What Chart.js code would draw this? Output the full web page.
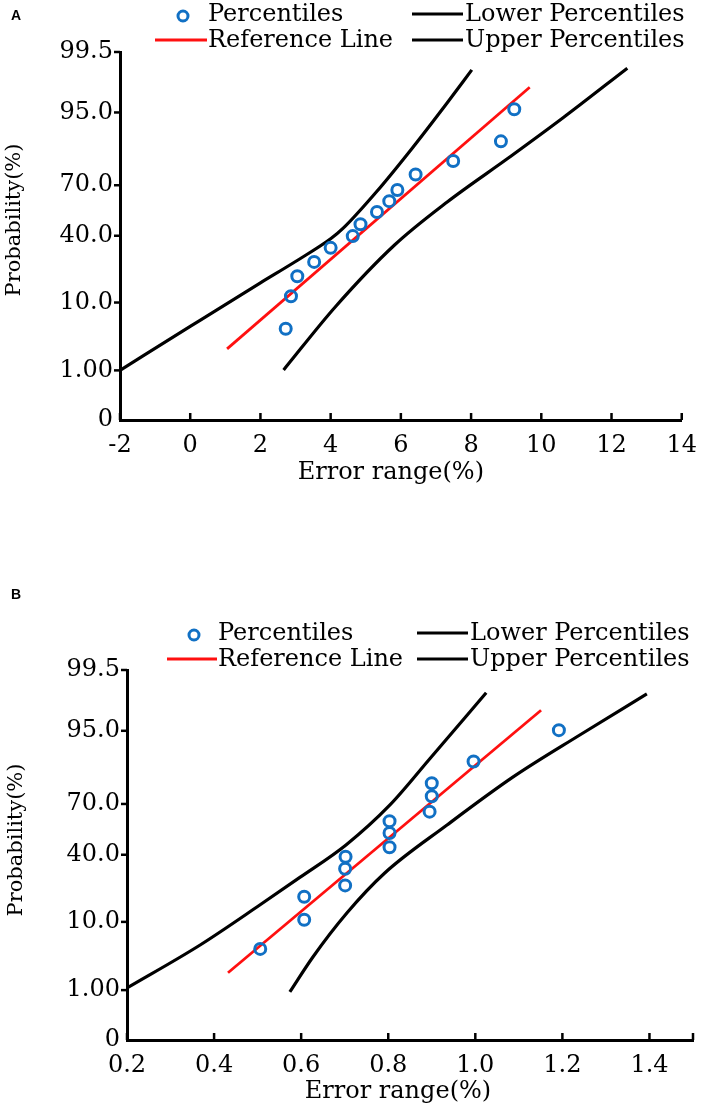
<!DOCTYPE html>
<html><head><meta charset="utf-8">
<script src="https://cdn.jsdelivr.net/npm/chart.js@4.4.1/dist/chart.umd.min.js"></script>
<style>
html,body{margin:0;padding:0;background:#fff;overflow:hidden;}
#wrap{position:relative;width:708px;height:1112px;background:#fff;}
.panel{position:absolute;left:0;width:708px;height:556px;}
canvas{display:block;}
</style></head><body>
<div id="wrap">
<div class="panel" style="top:0"><canvas id="cA" width="708" height="556"></canvas></div>
<div class="panel" style="top:556px"><canvas id="cB" width="708" height="556"></canvas></div>
</div>
<script>
// ---------- shared labels ----------
const seriesNames = ['Percentiles', 'Reference Line', 'Lower Percentiles', 'Upper Percentiles'];
const xTitle = 'Error range(%)';
const yTitle = 'Probability(%)';
const yTickProbs = [0.1, 1, 10, 40, 70, 95, 99.5];
const yTickLabels = ['0', '1.00', '10.0', '40.0', '70.0', '95.0', '99.5'];

// ---------- panel A ----------
const xTicksA = [-2, 0, 2, 4, 6, 8, 10, 12, 14];
const xTickLabelsA = ['-2', '0', '2', '4', '6', '8', '10', '12', '14'];
const pctXA = [2.72, 2.87, 3.05, 3.53, 4.00, 4.63, 4.85, 5.32, 5.67, 5.90, 6.42, 7.49, 8.85, 9.23];
const pctPA = [4.6, 11.8, 19.0, 25.6, 33.0, 39.8, 47.0, 54.5, 61.0, 67.4, 75.5, 81.5, 88.5, 95.5];
const refXA = [1.05, 9.67];
const refPA = [2.3, 97.9];
const lowXA = [-2, 0, 2, 3, 4, 4.35, 5.3, 6.3, 7.3, 8.02];
const lowPA = [1.0, 4.95, 16.4, 25.8, 38.2, 44.4, 66.3, 86.0, 96.25, 98.93];
const upXA = [2.66, 4.13, 5.82, 7.32, 9.1, 10.62, 12.45];
const upPA = [1.02, 8.85, 34.6, 60.5, 83.1, 94.1, 99.0];

// ---------- panel B ----------
const xTicksB = [0.2, 0.4, 0.6, 0.8, 1.0, 1.2, 1.4, 1.5];
const xTickLabelsB = ['0.2', '0.4', '0.6', '0.8', '1.0', '1.2', '1.4', ''];
const pctXB = [0.506, 0.607, 0.607, 0.701, 0.701, 0.702, 0.803, 0.803, 0.803, 0.895, 0.900, 0.900, 0.996, 1.192];
const pctPB = [4.5, 10.6, 18.5, 23.5, 32.0, 38.8, 44.5, 53.2, 60.3, 65.8, 74.0, 80.0, 88.0, 95.1];
const refXB = [0.432, 1.151];
const refPB = [1.97, 97.5];
const lowXB = [0.2, 0.368, 0.505, 0.597, 0.703, 0.804, 0.896, 1.025];
const lowPB = [1.09, 5.1, 15.3, 27.4, 45.9, 69.5, 88.9, 98.7];
const upXB = [0.574, 0.627, 0.705, 0.792, 0.935, 1.087, 1.24, 1.394];
const upPB = [0.93, 3.45, 12.6, 29.7, 58.0, 82.6, 94.3, 98.64];

// inverse normal CDF (probability-paper axis transform)
function probit(p) {
  const a = [-3.969683028665376e+01, 2.209460984245205e+02, -2.759285104469687e+02, 1.383577518672690e+02, -3.066479806614716e+01, 2.506628277459239e+00];
  const b = [-5.447609879822406e+01, 1.615858368580409e+02, -1.556989798598866e+02, 6.680131188771972e+01, -1.328068155288572e+01];
  const c = [-7.784894002430293e-03, -3.223964580411365e-01, -2.400758277161838e+00, -2.549732539343734e+00, 4.374664141464968e+00, 2.938163982698783e+00];
  const d = [7.784695709041462e-03, 3.224671290700398e-01, 2.445134137142996e+00, 3.754408661907416e+00];
  const pl = 0.02425, ph = 1 - pl;
  let q, r;
  if (p < pl) { q = Math.sqrt(-2 * Math.log(p)); return (((((c[0]*q+c[1])*q+c[2])*q+c[3])*q+c[4])*q+c[5]) / ((((d[0]*q+d[1])*q+d[2])*q+d[3])*q+1); }
  if (p > ph) { q = Math.sqrt(-2 * Math.log(1 - p)); return -(((((c[0]*q+c[1])*q+c[2])*q+c[3])*q+c[4])*q+c[5]) / ((((d[0]*q+d[1])*q+d[2])*q+d[3])*q+1); }
  q = p - 0.5; r = q * q;
  return (((((a[0]*r+a[1])*r+a[2])*r+a[3])*r+a[4])*r+a[5])*q / (((((b[0]*r+b[1])*r+b[2])*r+b[3])*r+b[4])*r+1);
}
const toPts = (xs, ps) => xs.map((x, i) => ({ x: x, y: probit(ps[i] / 100) }));

const BLUE = '#1170c4', RED = '#ff1010', BLACK = '#000000';
const SERIF = '"DejaVu Serif", serif';

const decor = {
  id: 'decor',
  afterDraw(chart, args, o) {
    const { ctx, chartArea: ca, scales: { x, y } } = chart;
    ctx.save();
    ctx.strokeStyle = BLACK; ctx.fillStyle = BLACK; ctx.lineWidth = 2.5; ctx.lineCap = 'butt';
    x.ticks.forEach(t => {
      const px = x.getPixelForValue(t.value);
      ctx.beginPath(); ctx.moveTo(px, ca.bottom); ctx.lineTo(px, ca.bottom - 7); ctx.stroke();
    });
    y.ticks.forEach((t, i) => {
      if (i === 0) return;
      const py = y.getPixelForValue(t.value);
      ctx.beginPath(); ctx.moveTo(ca.left, py); ctx.lineTo(ca.left - 6, py); ctx.stroke();
    });
    // axis titles
    ctx.textAlign = 'center'; ctx.textBaseline = 'middle';
    ctx.font = '24px ' + SERIF;
    ctx.fillText(xTitle, (ca.left + ca.right) / 2 + o.xTitleDx, ca.bottom + o.xTitleDy);
    ctx.save();
    ctx.translate(o.yTitleX, (ca.top + ca.bottom) / 2 + o.yTitleDy);
    ctx.rotate(-Math.PI / 2);
    ctx.font = '21px ' + SERIF;
    ctx.fillText(yTitle, 0, 0);
    ctx.restore();
    // panel letter
    ctx.textAlign = 'left';
    ctx.font = 'bold 14px "Liberation Sans", Arial, sans-serif';
    ctx.fillText(o.letter, 11, o.letterY);
    // legend (2 x 2 grid)
    const L = o.legend;
    const grid = [[0, 2], [1, 3]];
    ctx.font = '24px ' + SERIF;
    grid.forEach((row, ri) => {
      row.forEach((di, ci) => {
        const ds = chart.data.datasets[di];
        const s0 = L.sym[ci][0], s1 = L.sym[ci][1], yy = L.rows[ri];
        ctx.strokeStyle = ds.borderColor;
        ctx.lineWidth = ds.borderWidth;
        if (di === 0) {
          ctx.beginPath(); ctx.arc((s0 + s1) / 2 + 2, yy + 2, ds.pointRadius - 0.5, 0, Math.PI * 2); ctx.stroke();
        } else {
          ctx.beginPath(); ctx.moveTo(s0, yy); ctx.lineTo(s1, yy); ctx.stroke();
        }
        ctx.fillStyle = BLACK;
        ctx.textAlign = 'left'; ctx.textBaseline = 'middle';
        ctx.fillText(ds.label, L.text[ci], yy + 1);
      });
    });
    ctx.restore();
  }
};

function makeChart(id, p) {
  const ctx = document.getElementById(id);
  return new Chart(ctx, {
    type: 'scatter',
    data: {
      datasets: [
        { label: seriesNames[0], data: toPts(p.pctX, p.pctP), showLine: false,
          pointStyle: 'circle', pointRadius: 5.5, pointHoverRadius: 5.5, borderWidth: 3,
          borderColor: BLUE, backgroundColor: 'rgba(0,0,0,0)' },
        { label: seriesNames[1], data: toPts(p.refX, p.refP), showLine: true,
          borderColor: RED, borderWidth: 2.8, pointRadius: 0, fill: false },
        { label: seriesNames[2], data: toPts(p.lowX, p.lowP), showLine: true,
          borderColor: BLACK, borderWidth: 3.2, pointRadius: 0, fill: false, cubicInterpolationMode: 'monotone' },
        { label: seriesNames[3], data: toPts(p.upX, p.upP), showLine: true,
          borderColor: BLACK, borderWidth: 3.2, pointRadius: 0, fill: false, cubicInterpolationMode: 'monotone' }
      ]
    },
    options: {
      responsive: false, animation: false, devicePixelRatio: 1,
      layout: { padding: { top: p.padTop, left: 0, right: p.padRight, bottom: 0 } },
      plugins: { legend: { display: false }, tooltip: { enabled: false }, decor: p.decor },
      scales: {
        x: {
          type: 'linear', min: p.xMin, max: p.xMax,
          afterBuildTicks: s => { s.ticks = p.xTicks.map(v => ({ value: v })); },
          afterFit: s => { s.height = p.xHeight; },
          ticks: { callback: (v, i) => p.xTickLabels[i], font: { family: SERIF, size: 24 }, color: BLACK,
                   padding: 11, maxRotation: 0, autoSkip: false },
          grid: { display: true, drawOnChartArea: false, drawTicks: false },
          border: { display: true, color: BLACK, width: 3 }
        },
        y: {
          type: 'linear', min: probit(yTickProbs[0] / 100), max: probit(yTickProbs[yTickProbs.length - 1] / 100),
          afterBuildTicks: s => { s.ticks = yTickProbs.map(v => ({ value: probit(v / 100) })); },
          afterFit: s => { s.width = p.yWidth; },
          ticks: { callback: (v, i) => yTickLabels[i], font: { family: SERIF, size: 24 }, color: BLACK,
                   padding: 7, autoSkip: false },
          grid: { display: true, drawOnChartArea: false, drawTicks: false },
          border: { display: true, color: BLACK, width: 3 }
        }
      }
    },
    plugins: [decor]
  });
}

makeChart('cA', {
  pctX: pctXA, pctP: pctPA, refX: refXA, refP: refPA, lowX: lowXA, lowP: lowPA, upX: upXA, upP: upPA,
  xMin: -2, xMax: 14, xTicks: xTicksA, xTickLabels: xTickLabelsA,
  padTop: 52, padRight: 21, xHeight: 136, yWidth: 120,
  decor: { letter: 'A', letterY: 16, xTitleDx: -10, xTitleDy: 53, yTitleX: 15, yTitleDy: -16,
           legend: { sym: [[155, 207], [412, 463]], text: [208, 465], rows: [14, 40] } }
});
makeChart('cB', {
  pctX: pctXB, pctP: pctPB, refX: refXB, refP: refPB, lowX: lowXB, lowP: lowPB, upX: upXB, upP: upPB,
  xMin: 0.2, xMax: 1.5, xTicks: xTicksB, xTickLabels: xTickLabelsB,
  padTop: 114, padRight: 15, xHeight: 72, yWidth: 127,
  decor: { letter: 'B', letterY: 39, xTitleDx: -12, xTitleDy: 52, yTitleX: 17, yTitleDy: -15,
           legend: { sym: [[167, 217], [417, 468]], text: [218, 470], rows: [77, 103] } }
});
</script>
</body></html>
